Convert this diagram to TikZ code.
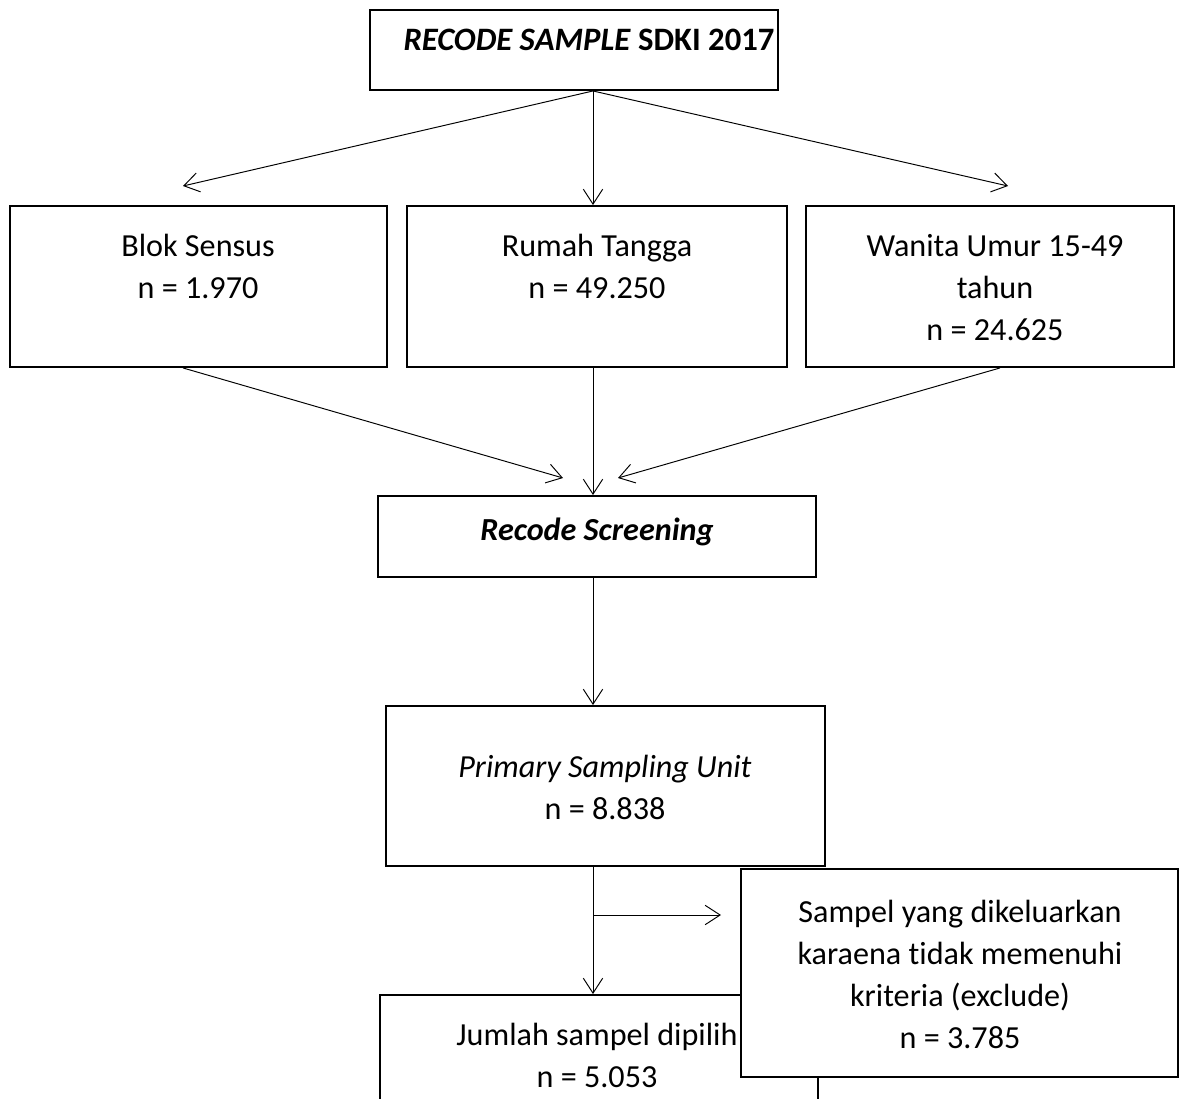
\documentclass[tikz,border=0pt]{standalone}
\usepackage{fontspec}
\setmainfont[Ligatures=NoCommon]{Carlito}
\usetikzlibrary{arrows.meta}
\begin{document}
\begin{tikzpicture}[x=0.02cm,y=-0.02cm,
  box/.style={draw, line width=1.1pt, fill=white, inner sep=0pt},
  lbl/.style={font=\fontsize{18.3}{23.9}\selectfont, inner sep=0pt, align=center, anchor=base},
  arr/.style={line width=0.55pt, -{Straight Barb[length=8.5pt,width=11pt,line width=0.55pt]}}]
\useasboundingbox (0,0) rectangle (1184,1099);
\clip (0,0) rectangle (1184,1099);
\coordinate (ax) at (593,0);
% boxes
\node[box, minimum width=8.16cm, minimum height=1.6cm] (top) at (574,50) {};
\node[box, minimum width=7.54cm, minimum height=3.22cm] (blok) at (198.5,286.5) {};
\node[box, minimum width=7.6cm, minimum height=3.22cm] (rumah) at (597,286.5) {};
\node[box, minimum width=7.36cm, minimum height=3.22cm] (wanita) at (990,286.5) {};
\node[box, minimum width=8.76cm, minimum height=1.62cm] (recode) at (597,536.5) {};
\node[box, minimum width=8.78cm, minimum height=3.2cm] (psu) at (605.5,786) {};
\node[box, minimum width=8.76cm, minimum height=2.6cm] (jumlah) at (599,1060) {};
% texts (base anchor = baseline of the last line)
\node[lbl, font=\fontsize{18.6}{23.9}\selectfont] (ttop) at (589,50) {\textbf{\textit{RECODE SAMPLE} SDKI 2017}};
\node[lbl] (tblok) at (198,298) {Blok Sensus\\n = 1.970};
\node[lbl] (trumah) at (597,298) {Rumah Tangga\\n = 49.250};
\node[lbl] (twanita) at (995,340) {Wanita Umur 15-49\\tahun\\n = 24.625};
\node[lbl] (trecode) at (597,540) {\textbf{\textit{Recode Screening}}};
\node[lbl] (tpsu) at (605,819) {\textit{Primary Sampling Unit}\\n = 8.838};
\node[lbl] (tjumlah) at (597,1087) {Jumlah sampel dipilih\\n = 5.053};
% connectors
\coordinate (el) at (183,186);
\coordinate (er) at (1008,186);
\draw[arr] (top.south -| ax) -- (el);
\draw[arr] (top.south -| ax) -- (rumah.north -| ax);
\draw[arr] (top.south -| ax) -- (er);
\coordinate (bl) at (183,0);
\coordinate (wr) at (1000,0);
\coordinate (rl) at (563,478);
\coordinate (rr) at (618,478);
\draw[arr] (blok.south -| bl) -- (rl);
\draw[arr] (rumah.south -| ax) -- (recode.north -| ax);
\draw[arr] (wanita.south -| wr) -- (rr);
\draw[arr] (recode.south -| ax) -- (psu.north -| ax);
\draw[arr] (psu.south -| ax) -- (jumlah.north -| ax);
\coordinate (br) at (593,915);
\coordinate (be) at (721,915);
\draw[arr] (br) -- (be);
% exclude box on top
\node[box, minimum width=8.74cm, minimum height=4.16cm] (excl) at (959.5,973) {};
\node[lbl] (texcl) at (960,1048) {Sampel yang dikeluarkan\\karaena tidak memenuhi\\kriteria (exclude)\\n = 3.785};
\end{tikzpicture}
\end{document}
